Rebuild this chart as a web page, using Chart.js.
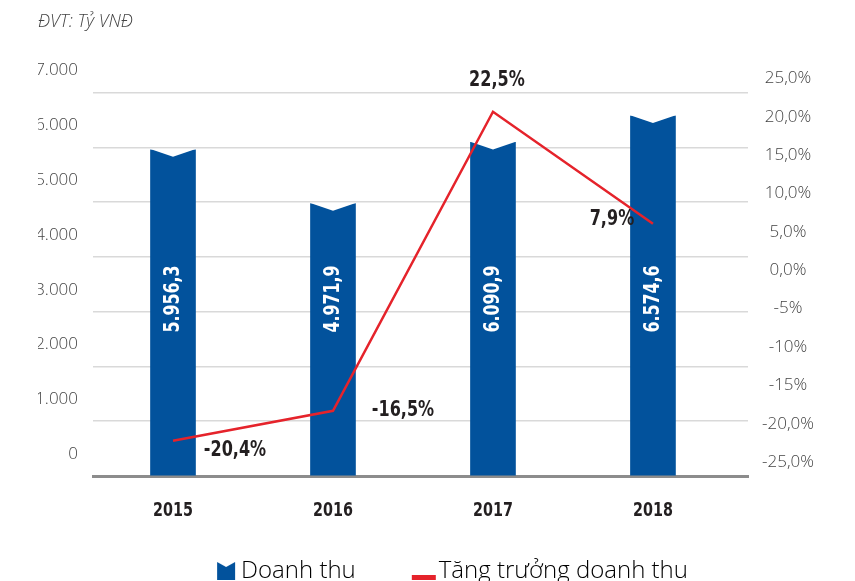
<!DOCTYPE html>
<html>
<head>
<meta charset="utf-8">
<script src="https://cdn.jsdelivr.net/npm/chart.js@4.4.0/dist/chart.umd.min.js"></script>
<style>
    html, body { margin: 0; padding: 0; background: #fff; overflow: hidden; }
    #wrap { width: 855px; height: 593px; position: relative; }
</style>
</head>
<body>
<div id="wrap"><canvas id="revenueChart"></canvas></div>
<script>
const years = ['2015', '2016', '2017', '2018'];
const revenue = [5956.3, 4971.9, 6090.9, 6574.6];
const growth = [-20.4, -16.5, 22.5, 7.9];
const growthTicks = ['25,0%', '20,0%', '15,0%', '10,0%', '5,0%', '0,0%', '-5%', '-10%', '-15%', '-20,0%', '-25,0%'];
const seriesNames = ['Doanh thu', 'Tăng trưởng doanh thu'];

// label nudges (px) for the growth numbers, same order as years
const growthLabelShift = [[62, 10], [70, 0], [4, -31], [-41, -4]];

const BLUE = '#02529c';
const RED = '#e5232b';
const CONDENSED = '"DejaVu Sans Condensed", "DejaVu Sans", sans-serif';
const LIGHT = '"Open Sans", "Noto Sans", sans-serif';

function fmtThousands(v) {
    return String(v).replace(/\B(?=(\d{3})+(?!\d))/g, '.');
}
function fmtRevenue(v) {
    const parts = v.toFixed(1).split('.');
    return fmtThousands(parts[0]) + ',' + parts[1];
}
function fmtGrowth(v) {
    return v.toFixed(1).replace('.', ',') + '%';
}

// condensed look: squeeze the text horizontally
function narrowText(ctx, text, x, y, sx, angle) {
    ctx.save();
    ctx.translate(x, y);
    if (angle) ctx.rotate(angle);
    ctx.scale(sx, 1);
    ctx.fillText(text, 0, 0);
    ctx.restore();
}

function makeIcon(draw) {
    const c = document.createElement('canvas');
    c.width = 44;
    c.height = 24;
    draw(c.getContext('2d'));
    return c;
}
const barIcon = makeIcon(function(ctx) {
    ctx.fillStyle = BLUE;
    ctx.beginPath();
    ctx.moveTo(22, 3);
    ctx.lineTo(31, 8);
    ctx.lineTo(40, 3);
    ctx.lineTo(40, 21);
    ctx.lineTo(22, 21);
    ctx.closePath();
    ctx.fill();
});
const lineIcon = makeIcon(function(ctx) {
    ctx.fillStyle = RED;
    ctx.fillRect(19, 16, 24, 5);
});

const barDecor = {
    id: 'barDecor',
    afterDatasetDraw(chart, args) {
        if (args.index !== 0) return;
        const ctx = chart.ctx;
        ctx.save();
        ctx.fillStyle = '#fff';
        args.meta.data.forEach(function(bar) {
            const half = bar.width / 2;
            ctx.beginPath();
            ctx.moveTo(bar.x - half - 1, bar.y - 1);
            ctx.lineTo(bar.x + half + 1, bar.y - 1);
            ctx.lineTo(bar.x, bar.y + 7);
            ctx.closePath();
            ctx.fill();
        });
        ctx.restore();
    },
    afterDatasetsDraw(chart) {
        const ctx = chart.ctx;
        const area = chart.chartArea;
        const bars = chart.getDatasetMeta(0).data;
        const points = chart.getDatasetMeta(1).data;
        ctx.save();
        ctx.textAlign = 'center';
        ctx.textBaseline = 'middle';

        // revenue values, rotated inside the bars
        ctx.fillStyle = '#fff';
        ctx.font = 'bold 22px ' + CONDENSED;
        bars.forEach(function(bar, i) {
            narrowText(ctx, fmtRevenue(revenue[i]), bar.x, area.bottom - 177, 0.8, -Math.PI / 2);
        });

        // growth values next to the line
        ctx.fillStyle = '#231f20';
        ctx.font = 'bold 21px ' + CONDENSED;
        points.forEach(function(pt, i) {
            narrowText(ctx, fmtGrowth(growth[i]), pt.x + growthLabelShift[i][0], pt.y + growthLabelShift[i][1], 0.85);
        });

        // year labels under the axis
        ctx.font = 'bold 19px ' + CONDENSED;
        bars.forEach(function(bar, i) {
            narrowText(ctx, years[i], bar.x, area.bottom + 35, 0.84);
        });
        ctx.restore();
    }
};

const ctx = document.getElementById('revenueChart');
new Chart(ctx, {
    type: 'bar',
    data: {
        datasets: [{
            type: 'bar',
            label: seriesNames[0],
            data: revenue.map((v, i) => ({ x: i, y: v })),
            backgroundColor: BLUE,
            barThickness: 45,
            yAxisID: 'y',
            order: 2
        }, {
            type: 'line',
            label: seriesNames[1],
            data: growth.map((v, i) => ({ x: i, y: v })),
            borderColor: RED,
            borderWidth: 2.5,
            pointRadius: 0,
            tension: 0,
            yAxisID: 'y1',
            order: 1
        }]
    },
    options: {
        responsive: true,
        maintainAspectRatio: false,
        animation: false,
        layout: {
            padding: { left: 38, right: 0, top: 0, bottom: 0 }
        },
        scales: {
            x: {
                type: 'linear',
                min: -0.5,
                max: 3.594,
                offset: false,
                grid: { display: false, drawTicks: false },
                border: { display: true, color: '#8c8c8c', width: 3 },
                afterBuildTicks: function(scale) {
                    scale.ticks = years.map((_, i) => ({ value: i }));
                },
                ticks: { display: false },
                afterFit: function(scale) { scale.height = 36; }
            },
            y: {
                position: 'left',
                min: 0,
                max: 7000,
                ticks: {
                    stepSize: 1000,
                    callback: v => fmtThousands(v),
                    padding: 15,
                    labelOffset: -22,
                    color: '#444',
                    font: { family: LIGHT, size: 17, weight: 300 }
                },
                grid: {
                    drawTicks: false,
                    lineWidth: 1.5,
                    color: c => (c.tick && c.tick.value === 0) ? 'rgba(0,0,0,0)' : '#d9d9d9'
                },
                border: { display: false },
                afterFit: function(scale) { scale.width = 55; }
            },
            y1: {
                position: 'right',
                min: -25,
                max: 25,
                ticks: {
                    stepSize: 5,
                    callback: v => growthTicks[Math.round((25 - v) / 5)],
                    padding: 14,
                    labelOffset: -14,
                    crossAlign: 'center',
                    color: '#444',
                    font: { family: LIGHT, size: 17, weight: 300 }
                },
                grid: { display: false, drawTicks: false },
                border: { display: false },
                afterFit: function(scale) { scale.width = 107; }
            }
        },
        plugins: {
            title: {
                display: true,
                text: 'ĐVT: Tỷ VNĐ',
                align: 'start',
                color: '#444',
                font: { family: LIGHT, size: 18, style: 'italic', weight: 300 },
                padding: { top: 11, bottom: 60 }
            },
            legend: {
                position: 'bottom',
                labels: {
                    usePointStyle: true,
                    pointStyleWidth: 24,
                    padding: 47,
                    color: '#333',
                    font: { family: LIGHT, size: 24, weight: 300 },
                    generateLabels: function(chart) {
                        const icons = [barIcon, lineIcon];
                        return chart.data.datasets.map((ds, i) => ({
                            text: ds.label,
                            pointStyle: icons[i],
                            fillStyle: 'rgba(0,0,0,0)',
                            strokeStyle: 'rgba(0,0,0,0)',
                            lineWidth: 0,
                            hidden: false,
                            datasetIndex: i
                        }));
                    }
                }
            },
            tooltip: { enabled: false }
        }
    },
    plugins: [barDecor]
});
</script>
</body>
</html>
